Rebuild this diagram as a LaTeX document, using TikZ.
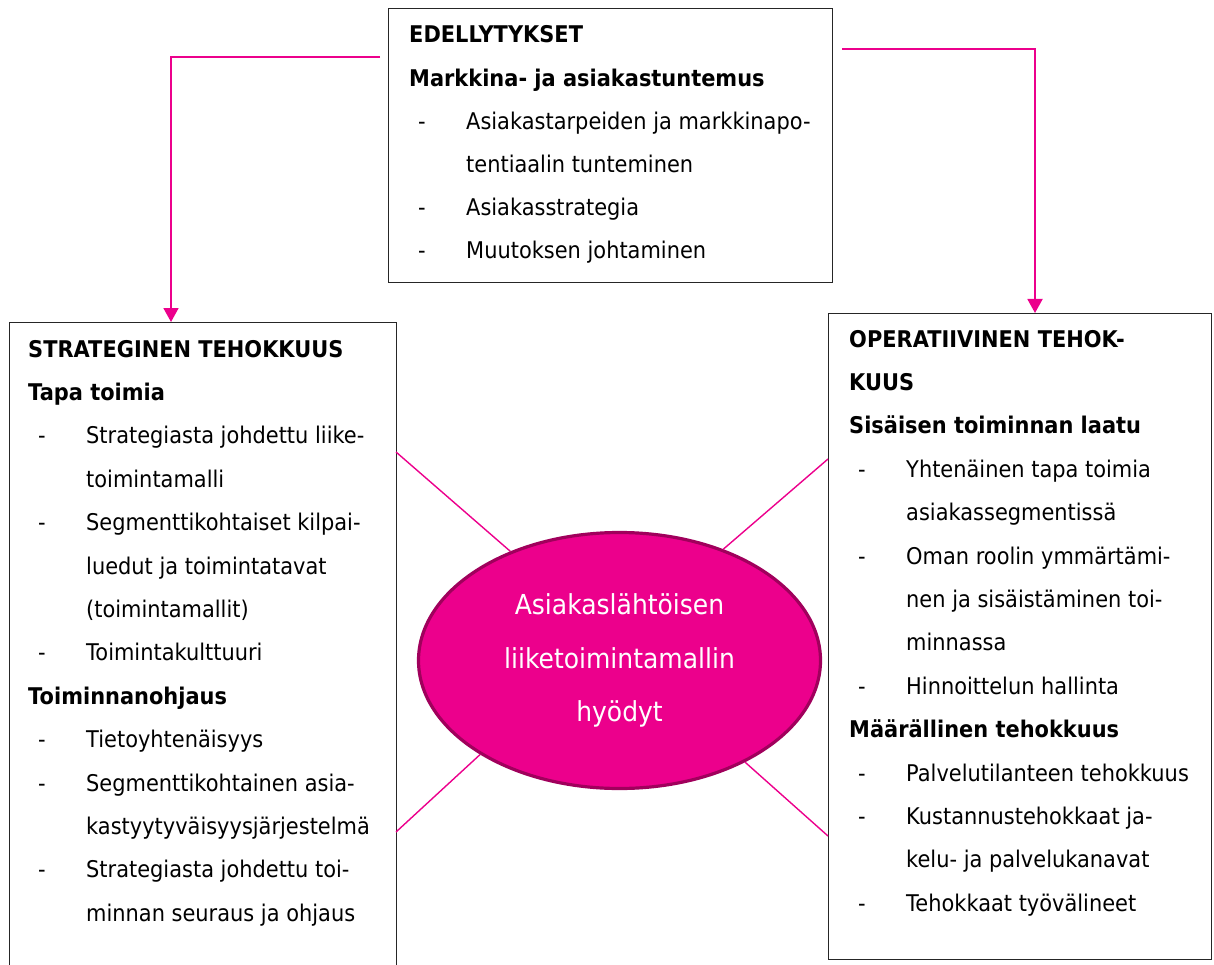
\documentclass[tikz,border=0pt]{standalone}
\usepackage{fontspec}
\setmainfont{DejaVu Sans}[FakeStretch=0.91]
\usetikzlibrary{arrows.meta,shapes.geometric}
\definecolor{mag}{HTML}{EC008C}
\definecolor{magdark}{HTML}{A0005C}
\begin{document}
\begin{tikzpicture}[x=1pt,y=-1pt,
  box/.style={draw=black!85,line width=1.3pt,inner sep=0pt,anchor=north west},
  txt/.style={anchor=base west,inner sep=0pt,font=\fontsize{23}{27}\selectfont},
  hd/.style={anchor=base west,inner sep=0pt,font=\fontsize{23}{27}\selectfont\bfseries},
  link/.style={draw=mag,line width=1.4pt},
  arr/.style={draw=mag,line width=1.8pt,-{Triangle[width=15pt,length=14pt]}},
  ellbox/.style={ellipse,fill=mag,draw=magdark,line width=3.2pt,inner sep=0pt,
    text=white,align=center,font=\fontsize{27.5}{53.5}\selectfont}
]
\useasboundingbox (0,0) rectangle (1214,965);

% boxes
\node[box,minimum width=444pt,minimum height=274pt] (tbox) at (388,8) {};
\node[box,minimum width=387pt,minimum height=650pt] (lbox) at (9,322) {};
\node[box,minimum width=383pt,minimum height=646pt] (rbox) at (828,313) {};

% arrows
\coordinate (la) at (380,57);
\coordinate (lx) at (171,0);
\coordinate (ra) at (842,49);
\coordinate (rx) at (1035,0);
\draw[arr] (la) -| (lbox.north -| lx);
\draw[arr] (ra) -| (rbox.north -| rx);

% connecting lines
\coordinate (p1) at (396,452);
\coordinate (p2) at (828,459);
\coordinate (p3) at (396,832);
\coordinate (p4) at (828,836);
\node[ellbox,minimum width=402pt,minimum height=256pt] (ell) at (619.5,660.5)
  {Asiakaslähtöisen\\liiketoimintamallin\\hyödyt};
\draw[link] (p1) -- (ell.135);
\draw[link] (p2) -- (ell.47.7);
\draw[link] (p3) -- (ell.214.7);
\draw[link] (p4) -- (ell.321);

% top box text
\node[hd] (t1) at (409,43) {EDELLYTYKSET};
\node[hd] (t2) at (409,86.5) {Markkina- ja asiakastuntemus};
\node[txt] (t3d) at (418,130) {-};
\node[txt] (t3) at (466,130) {Asiakastarpeiden ja markkinapo-};
\node[txt] (t4) at (466,173) {tentiaalin tunteminen};
\node[txt] (t5d) at (418,216) {-};
\node[txt] (t5) at (466,216) {Asiakasstrategia};
\node[txt] (t6d) at (418,259) {-};
\node[txt] (t6) at (466,259) {Muutoksen johtaminen};

% left box text
\node[hd] (l1) at (28,357) {STRATEGINEN TEHOKKUUS};
\node[hd] (l2) at (28,400.4) {Tapa toimia};
\node[txt] (l3d) at (38,443.8) {-};
\node[txt] (l3) at (86,443.8) {Strategiasta johdettu liike-};
\node[txt] (l4) at (86,487.2) {toimintamalli};
\node[txt] (l5d) at (38,530.6) {-};
\node[txt] (l5) at (86,530.6) {Segmenttikohtaiset kilpai-};
\node[txt] (l6) at (86,574) {luedut ja toimintatavat};
\node[txt] (l7) at (86,617.4) {(toimintamallit)};
\node[txt] (l8d) at (38,660.8) {-};
\node[txt] (l8) at (86,660.8) {Toimintakulttuuri};
\node[hd] (l9) at (28,704.2) {Toiminnanohjaus};
\node[txt] (l10d) at (38,747.6) {-};
\node[txt] (l10) at (86,747.6) {Tietoyhtenäisyys};
\node[txt] (l11d) at (38,791) {-};
\node[txt] (l11) at (86,791) {Segmenttikohtainen asia-};
\node[txt] (l12) at (86,834.4) {kastyytyväisyysjärjestelmä};
\node[txt] (l13d) at (38,877.8) {-};
\node[txt] (l13) at (86,877.8) {Strategiasta johdettu toi-};
\node[txt] (l14) at (86,921.2) {minnan seuraus ja ohjaus};

% right box text
\node[hd] (r1) at (849,347) {OPERATIIVINEN TEHOK-};
\node[hd] (r2) at (849,390.4) {KUUS};
\node[hd] (r3) at (849,433.8) {Sisäisen toiminnan laatu};
\node[txt] (r4d) at (858,477.2) {-};
\node[txt] (r4) at (906,477.2) {Yhtenäinen tapa toimia};
\node[txt] (r5) at (906,520.6) {asiakassegmentissä};
\node[txt] (r6d) at (858,564) {-};
\node[txt] (r6) at (906,564) {Oman roolin ymmärtämi-};
\node[txt] (r7) at (906,607.4) {nen ja sisäistäminen toi-};
\node[txt] (r8) at (906,650.8) {minnassa};
\node[txt] (r9d) at (858,694.2) {-};
\node[txt] (r9) at (906,694.2) {Hinnoittelun hallinta};
\node[hd] (r10) at (849,737.6) {Määrällinen tehokkuus};
\node[txt] (r11d) at (858,781) {-};
\node[txt] (r11) at (906,781) {Palvelutilanteen tehokkuus};
\node[txt] (r12d) at (858,824.4) {-};
\node[txt] (r12) at (906,824.4) {Kustannustehokkaat ja-};
\node[txt] (r13) at (906,867.8) {kelu- ja palvelukanavat};
\node[txt] (r14d) at (858,911.2) {-};
\node[txt] (r14) at (906,911.2) {Tehokkaat työvälineet};
\end{tikzpicture}
\end{document}
